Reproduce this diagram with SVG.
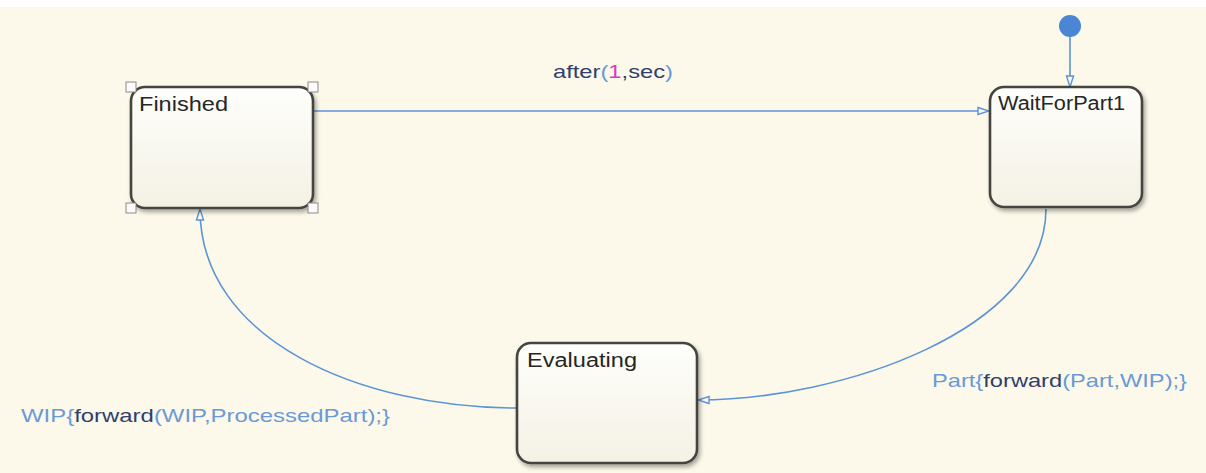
<svg xmlns="http://www.w3.org/2000/svg" width="1206" height="473" viewBox="0 0 1206 473">
<defs>
<style>
.state rect.box{fill:url(#sg);stroke:#444441;stroke-width:2.6;filter:url(#sh)}
.st{font-family:"Liberation Sans",Arial,sans-serif;font-size:20px;fill:#262626}
.lbl{font-family:"Liberation Sans",Arial,sans-serif;font-size:19px;fill:#6a9ad6}
.kw{fill:#2f3f6e}
.num{fill:#d23ec2}
.conn{fill:none;stroke:#5b93d8;stroke-width:1.6}
.handle{fill:#fbfbfb;stroke:#8a8a8a;stroke-width:1}
</style>
<linearGradient id="sg" x1="0" y1="0" x2="0" y2="1">
<stop offset="0" stop-color="#fefefb"/>
<stop offset="1" stop-color="#f4f1e4"/>
</linearGradient>
<filter id="sh" x="-10%" y="-10%" width="125%" height="130%">
<feDropShadow dx="2" dy="3" stdDeviation="2" flood-color="#000" flood-opacity="0.35"/>
</filter>
<marker id="arr" markerUnits="userSpaceOnUse" markerWidth="14" markerHeight="12" refX="12" refY="5" orient="auto" viewBox="0 0 14 10">
<path d="M1,1.5 L12,5 L1,8.5 Z" fill="#fdf9ea" stroke="#5b93d8" stroke-width="1.4"/>
</marker>
</defs>
<rect x="0" y="0" width="1206" height="473" fill="#ffffff"/>
<rect x="0" y="7" width="1206" height="466" fill="#fdf9ea"/>

<g id="connectors">
<circle cx="1070" cy="26" r="11" fill="#4a86d4"/>
<path class="conn" d="M1070,37 L1070,87" marker-end="url(#arr)"/>
<path class="conn" d="M314,111 L989,111" marker-end="url(#arr)"/>
<path class="conn" d="M1046,209 C1046,330 840,400 698,400" marker-end="url(#arr)"/>
<path class="conn" d="M517,408 C360,408 200,340 200,209" marker-end="url(#arr)"/>
<text class="lbl" x="553" y="78" textLength="120" lengthAdjust="spacingAndGlyphs"><tspan class="kw">after</tspan>(<tspan class="num">1</tspan><tspan class="kw">,sec</tspan>)</text>
<text class="lbl" x="932" y="387" textLength="255" lengthAdjust="spacingAndGlyphs">Part{<tspan class="kw">forward</tspan>(Part,WIP);}</text>
<text class="lbl" x="21" y="422" textLength="369" lengthAdjust="spacingAndGlyphs">WIP{<tspan class="kw">forward</tspan>(WIP,ProcessedPart);}</text>
</g>

<g id="Finished" class="state">
<rect class="box" x="131" y="87" width="182" height="121" rx="14"/>
<text class="st" x="139" y="111" textLength="89" lengthAdjust="spacingAndGlyphs">Finished</text>
<rect class="handle" x="126" y="82" width="10" height="10"/>
<rect class="handle" x="308" y="82" width="10" height="10"/>
<rect class="handle" x="126" y="203" width="10" height="10"/>
<rect class="handle" x="308" y="203" width="10" height="10"/>
</g>

<g id="WaitForPart1" class="state">
<rect class="box" x="990" y="87" width="152" height="120" rx="14"/>
<text class="st" x="998" y="110" textLength="127" lengthAdjust="spacingAndGlyphs">WaitForPart1</text>
</g>

<g id="Evaluating" class="state">
<rect class="box" x="517" y="343" width="180" height="120" rx="14"/>
<text class="st" x="527" y="367" textLength="110" lengthAdjust="spacingAndGlyphs">Evaluating</text>
</g>
</svg>
